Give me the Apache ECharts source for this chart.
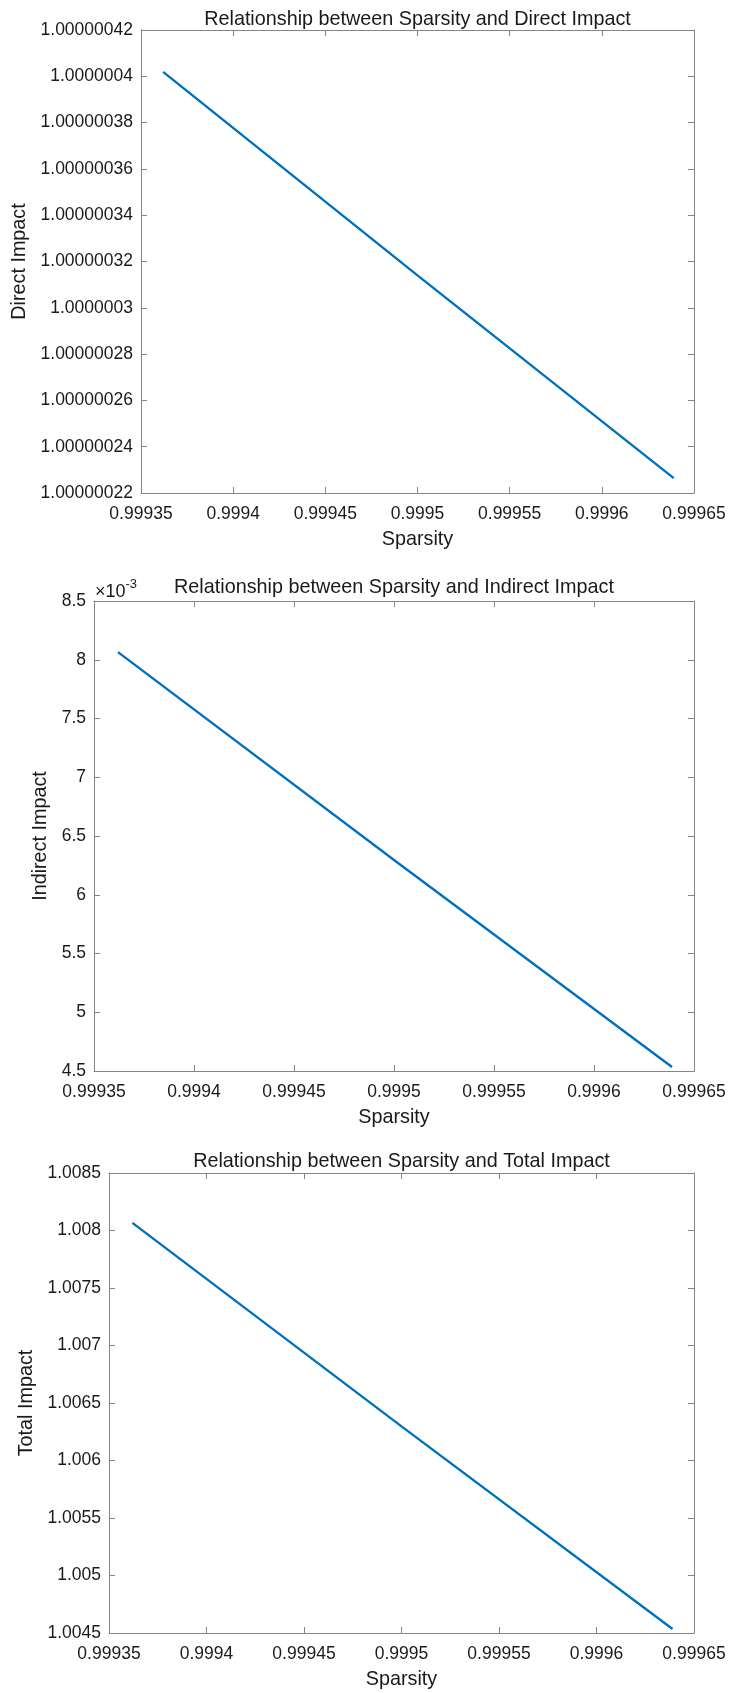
<!DOCTYPE html>
<html>
<head>
<meta charset="utf-8">
<script src="https://cdn.jsdelivr.net/npm/echarts@6/dist/echarts.min.js"></script>
<style>
html,body{margin:0;padding:0;background:#fff;}
#c{width:732px;height:1693px;}
</style>
</head>
<body>
<div id="c"></div>
<script>
// ---- data ----
var sparsity = [0.999362, 0.9995, 0.999639];
var directImpact = [1.0000004019, 1.000000314, 1.0000002264];
var indirectImpact = [0.008065, 0.006296, 0.004534];
var totalImpact = [1.008066, 1.006297, 1.004535];

var titles = [
  'Relationship between Sparsity and Direct Impact',
  'Relationship between Sparsity and Indirect Impact',
  'Relationship between Sparsity and Total Impact'
];
var yNames = ['Direct Impact', 'Indirect Impact', 'Total Impact'];
var xName = 'Sparsity';

var xTickLabels = ['0.99935','0.9994','0.99945','0.9995','0.99955','0.9996','0.99965'];
var y1TickLabels = ['1.00000022','1.00000024','1.00000026','1.00000028','1.0000003','1.00000032','1.00000034','1.00000036','1.00000038','1.0000004','1.00000042'];
var y2TickLabels = ['4.5','5','5.5','6','6.5','7','7.5','8','8.5'];
var y3TickLabels = ['1.0045','1.005','1.0055','1.006','1.0065','1.007','1.0075','1.008','1.0085'];

var xRange = {min: 0.99935, max: 0.99965, interval: 0.00005};
var yRanges = [
  {min: 1.00000022, max: 1.00000042, interval: 0.00000002},
  {min: 0.0045, max: 0.0085, interval: 0.0005},
  {min: 1.0045, max: 1.0085, interval: 0.0005}
];
var yLabelSets = [y1TickLabels, y2TickLabels, y3TickLabels];
var seriesData = [directImpact, indirectImpact, totalImpact];

// ---- layout ----
var FONT = '"Liberation Sans", Arial, Helvetica, sans-serif';
var grids = [
  {left: 141, top: 30, width: 553, height: 463},
  {left: 94, top: 601, width: 600, height: 470},
  {left: 109, top: 1173, width: 585, height: 460}
];
var titleOffsets = [20, 23, 21];
var yNameGaps = [101, 38, 66];
var axisCol = '#858585';
var textCol = '#1a1a1a';

function lookup(labels, rng) {
  return function (v) {
    var i = Math.round((v - rng.min) / rng.interval);
    return labels[i] !== undefined ? labels[i] : '';
  };
}

var option = {
  animation: false,
  backgroundColor: '#fff',
  textStyle: {fontFamily: FONT},
  title: [],
  grid: [],
  xAxis: [],
  yAxis: [],
  series: [],
  graphic: []
};

grids.forEach(function (g, k) {
  option.grid.push({left: g.left, top: g.top, width: g.width, height: g.height, show: false, containLabel: false});
  option.title.push({
    text: titles[k],
    left: g.left + g.width / 2,
    top: g.top - titleOffsets[k],
    textAlign: 'center',
    padding: 0,
    textStyle: {fontFamily: FONT, fontSize: 19.8, fontWeight: 'normal', color: textCol}
  });
  // bottom x axis
  option.xAxis.push({
    type: 'value', gridIndex: k, position: 'bottom',
    min: xRange.min, max: xRange.max, interval: xRange.interval,
    name: xName, nameLocation: 'middle', nameGap: 37,
    nameTextStyle: {fontFamily: FONT, fontSize: 19.8, color: textCol},
    axisLine: {show: true, lineStyle: {color: axisCol, width: 1}},
    axisTick: {show: true, inside: true, length: 6, lineStyle: {color: axisCol}},
    axisLabel: {show: true, margin: 12, fontFamily: FONT, fontSize: 17.5, color: textCol, formatter: lookup(xTickLabels, xRange)},
    splitLine: {show: false}
  });
  // top x axis (box)
  option.xAxis.push({
    type: 'value', gridIndex: k, position: 'top',
    min: xRange.min, max: xRange.max, interval: xRange.interval,
    axisLine: {show: true, lineStyle: {color: axisCol, width: 1}},
    axisTick: {show: true, inside: true, length: 6, lineStyle: {color: axisCol}},
    axisLabel: {show: false},
    splitLine: {show: false}
  });
  var yr = yRanges[k];
  option.yAxis.push({
    type: 'value', gridIndex: k, position: 'left',
    min: yr.min, max: yr.max, interval: yr.interval,
    name: yNames[k], nameLocation: 'middle', nameGap: yNameGaps[k], nameRotate: 90,
    nameTextStyle: {fontFamily: FONT, fontSize: 19.8, color: textCol},
    axisLine: {show: true, lineStyle: {color: axisCol, width: 1}},
    axisTick: {show: true, inside: true, length: 6, lineStyle: {color: axisCol}},
    axisLabel: {show: true, margin: 8, fontFamily: FONT, fontSize: 17.5, color: textCol, formatter: lookup(yLabelSets[k], yr)},
    splitLine: {show: false}
  });
  option.yAxis.push({
    type: 'value', gridIndex: k, position: 'right',
    min: yr.min, max: yr.max, interval: yr.interval,
    axisLine: {show: true, lineStyle: {color: axisCol, width: 1}},
    axisTick: {show: true, inside: true, length: 6, lineStyle: {color: axisCol}},
    axisLabel: {show: false},
    splitLine: {show: false}
  });
  var pts = sparsity.map(function (x, i) { return [x, seriesData[k][i]]; });
  option.series.push({
    type: 'line', xAxisIndex: 2 * k, yAxisIndex: 2 * k,
    data: pts, showSymbol: false, symbol: 'none',
    lineStyle: {color: '#0072BD', width: 2.4},
    itemStyle: {color: '#0072BD'}
  });
});

// exponent marker for indirect impact axis
option.graphic.push({
  type: 'text', left: 95, top: 578,
  style: {
    text: '{a|×10}{b|-3}',
    rich: {
      a: {fontFamily: FONT, fontSize: 18, fill: textCol, verticalAlign: 'bottom'},
      b: {fontFamily: FONT, fontSize: 13, fill: textCol, verticalAlign: 'top', padding: [0, 0, 10, 0]}
    }
  }
});

var chart = echarts.init(document.getElementById('c'), null, {renderer: 'canvas'});
chart.setOption(option);
</script>
</body>
</html>
